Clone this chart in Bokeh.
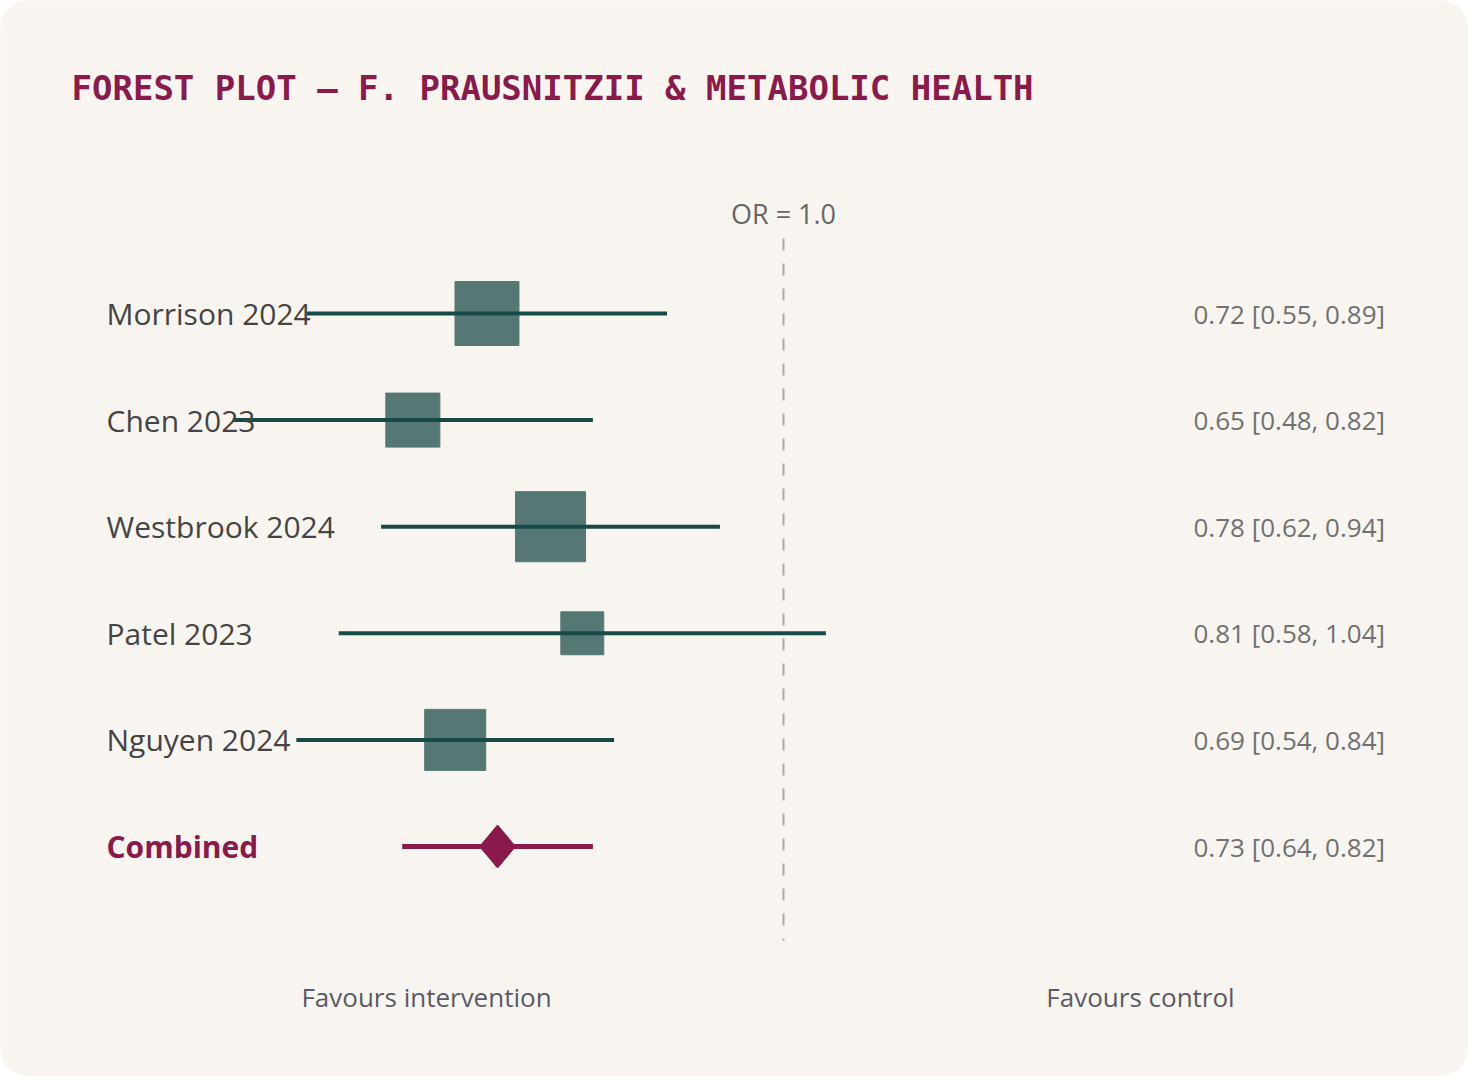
from bokeh.plotting import figure
from bokeh.models import Range1d, ColumnDataSource, Label
from bokeh.core.properties import value
from bokeh.embed import file_html
from bokeh.resources import INLINE

# ---- data ----
studies = ["Morrison 2024", "Chen 2023", "Westbrook 2024", "Patel 2023", "Nguyen 2024"]
odds_ratio = [0.72, 0.65, 0.78, 0.81, 0.69]
ci_low = [0.55, 0.48, 0.62, 0.58, 0.54]
ci_high = [0.89, 0.82, 0.94, 1.04, 0.84]
weights = [21.9, 18.5, 24.0, 14.7, 20.9]

combined_label = "Combined"
combined_or = 0.73
combined_low = 0.64
combined_high = 0.82

title_text = "FOREST PLOT \u2014 F. PRAUSNITZII & METABOLIC HEALTH"
ref_label = "OR = 1.0"
left_note = "Favours intervention"
right_note = "Favours control"

# ---- layout helpers (pixel -> data for placement of text) ----
W, H = 1468, 1076
X_PER_PX = 1.0 / 1059.0
X0 = 1.0 - 783 * X_PER_PX          # OR value at left canvas edge
X1 = X0 + W * X_PER_PX
ROW_PX = 106.6
Y_TOP = -313 / ROW_PX
Y_BOT = (H - 313) / ROW_PX


def px_x(px):
    return X0 + px * X_PER_PX


def px_y(px):
    return Y_TOP + px / ROW_PX


CARD = "#f8f5f0"
TEAL = "#174a47"
SQUARE = "#557874"
MAROON = "#8a1a4b"
FONT = value("Open Sans")

p = figure(width=W, height=H, output_backend="svg", toolbar_location=None,
           x_range=Range1d(X0, X1), y_range=Range1d(Y_BOT, Y_TOP),
           min_border=0, background_fill_color=CARD, border_fill_color=CARD,
           outline_line_color=None,
           styles={"border-radius": "28px", "overflow": "hidden"})
p.axis.visible = False
p.grid.visible = False

rows = list(range(len(studies)))
src = ColumnDataSource(dict(
    study=studies, orv=odds_ratio, lo=ci_low, hi=ci_high, row=rows,
    size=[w * 2.92 for w in weights],
    txt=[f"{o:.2f} [{l:.2f}, {h:.2f}]" for o, l, h in zip(odds_ratio, ci_low, ci_high)],
))

# reference line OR = 1
p.segment(x0=[1.0], x1=[1.0], y0=[px_y(238)], y1=[px_y(940)],
          line_color="#aaaaaa", line_width=2, line_dash="12 13")
p.text(x=[1.0], y=[px_y(213)], text=[ref_label], text_align="center",
       text_baseline="middle", text_font=FONT,
       text_font_size="27px", text_color="#666666")

# study squares + CIs
p.scatter(x="orv", y="row", size="size", marker="square", source=src,
          fill_color=SQUARE, line_color=SQUARE, line_width=1)
p.segment(x0="lo", x1="hi", y0="row", y1="row", source=src,
          line_color=TEAL, line_width=4)

# combined
crow = len(studies)
p.segment(x0=[combined_low], x1=[combined_high], y0=[crow], y1=[crow],
          line_color=MAROON, line_width=5)
dx = 18 * X_PER_PX
dy = 21.5 / ROW_PX
p.patch(x=[combined_or - dx, combined_or, combined_or + dx, combined_or],
        y=[crow, crow - dy, crow, crow + dy],
        fill_color=MAROON, line_color=MAROON)

# labels
p.text(x=px_x(106), y="row", text="study", source=src, text_baseline="middle",
       text_font=FONT, text_font_size="30px", text_color="#444444")
p.text(x=[px_x(106)], y=[crow], text=[combined_label], text_baseline="middle",
       text_font=FONT, text_font_size="30px", text_font_style="bold",
       text_color=MAROON)

p.text(x=px_x(1193), y="row", text="txt", source=src, text_baseline="middle",
       text_font=FONT, text_font_size="26px", text_color="#707070")
p.text(x=[px_x(1193)], y=[crow],
       text=[f"{combined_or:.2f} [{combined_low:.2f}, {combined_high:.2f}]"],
       text_baseline="middle", text_font=FONT, text_font_size="26px",
       text_color="#707070")

p.text(x=[px_x(426), px_x(1140)], y=[px_y(996)] * 2, text=[left_note, right_note],
       text_align="center", text_baseline="middle", text_font=FONT,
       text_font_size="26px", text_color="#5a5a66")

p.add_layout(Label(x=px_x(71), y=px_y(87), text=title_text,
                   text_font="DejaVu Sans Mono", text_font_size="34px",
                   text_font_style="bold", text_color=MAROON,
                   text_baseline="middle"))

open("out.html", "w").write(file_html(p, INLINE))
